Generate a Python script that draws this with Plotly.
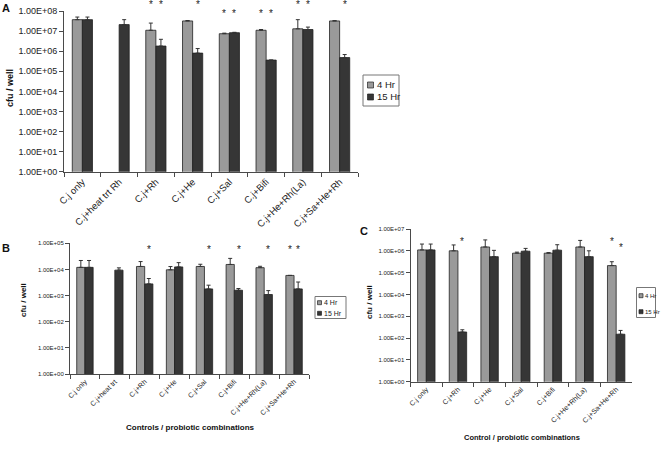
import plotly.graph_objects as go

# ---------------- data ----------------
cats_a = ["C.j only", "C.j+heat trt Rh", "C.j+Rh", "C.j+He", "C.j+Sal", "C.j+Bifi",
          "C.j+He+Rh(La)", "C.j+Sa+He+Rh"]
a_4hr = [3.7e7, None, 1.1e7, 3.2e7, 7.4e6, 1.1e7, 1.3e7, 3.2e7]
a_4hr_err = [1.3e7, None, 1.4e7, 1.5e6, 5e5, 1e6, 2.4e7, 1e6]
a_15hr = [3.7e7, 2.1e7, 1.8e6, 8e5, 8.3e6, 3.6e5, 1.2e7, 4.8e5]
a_15hr_err = [1.3e7, 1.6e7, 2.1e6, 5.5e5, 4e5, 0, 3.8e6, 2e5]
a_stars = [("C.j+Rh", "4 Hr", 8.3), ("C.j+Rh", "15 Hr", 8.3), ("C.j+He", "15 Hr", 8.3),
           ("C.j+Sal", "4 Hr", 7.9), ("C.j+Sal", "15 Hr", 7.9),
           ("C.j+Bifi", "4 Hr", 7.9), ("C.j+Bifi", "15 Hr", 7.9),
           ("C.j+He+Rh(La)", "4 Hr", 8.3), ("C.j+He+Rh(La)", "15 Hr", 8.3),
           ("C.j+Sa+He+Rh", "15 Hr", 8.3)]
a_tickvals = [1e0, 1e1, 1e2, 1e3, 1e4, 1e5, 1e6, 1e7, 1e8]
a_ticktext = ["1.00E+00", "1.00E+01", "1.00E+02", "1.00E+03", "1.00E+04",
              "1.00E+05", "1.00E+06", "1.00E+07", "1.00E+08"]

cats_b = ["C.j only", "C.j+heat trt", "C.j+Rh", "C.j+He", "C.j+Sal", "C.j+Bifi",
          "C.j+He+Rh(La)", "C.j+Sa+He+Rh"]
b_4hr = [1.2e4, None, 1.3e4, 9.7e3, 1.3e4, 1.55e4, 1.17e4, 5.9e3]
b_4hr_err = [1.0e4, None, 7e3, 3.2e3, 2.8e3, 1.1e4, 1.5e3, 0]
b_15hr = [1.2e4, 9.4e3, 2.8e3, 1.25e4, 1.8e3, 1.6e3, 1.1e3, 1.8e3]
b_15hr_err = [1.0e4, 2.1e3, 1.7e3, 5.7e3, 7e2, 2.6e2, 4.5e2, 1.5e3]
b_stars = [("C.j+Rh", "15 Hr", 4.77), ("C.j+Sal", "15 Hr", 4.77), ("C.j+Bifi", "15 Hr", 4.77),
           ("C.j+He+Rh(La)", "15 Hr", 4.77), ("C.j+Sa+He+Rh", "4 Hr", 4.77),
           ("C.j+Sa+He+Rh", "15 Hr", 4.77)]
b_tickvals = [1e0, 1e1, 1e2, 1e3, 1e4, 1e5]
b_ticktext = ["1.00E+00", "1.00E+01", "1.00E+02", "1.00E+03", "1.00E+04", "1.00E+05"]

cats_c = ["C.j only", "C.j+Rh", "C.j+He", "C.j+Sal", "C.j+Bifi", "C.j+He+Rh(La)", "C.j+Sa+He+Rh"]
c_4hr = [1.1e6, 1.0e6, 1.5e6, 7.8e5, 7.8e5, 1.5e6, 2.1e5]
c_4hr_err = [9.4e5, 8.6e5, 1.66e6, 9e4, 5e4, 1.5e6, 1.06e5]
c_15hr = [1.1e6, 1.9e2, 5.4e5, 9.6e5, 1.07e6, 5.4e5, 1.5e2]
c_15hr_err = [9.4e5, 50, 5.1e5, 3.3e5, 8.3e5, 4.6e5, 74]
c_stars = [("C.j+Rh", "15 Hr", 6.42), ("C.j+Sa+He+Rh", "4 Hr", 6.42),
           ("C.j+Sa+He+Rh", "15 Hr", 6.15)]
c_tickvals = [1e0, 1e1, 1e2, 1e3, 1e4, 1e5, 1e6, 1e7]
c_ticktext = ["1.00E+00", "1.00E+01", "1.00E+02", "1.00E+03", "1.00E+04",
              "1.00E+05", "1.00E+06", "1.00E+07"]

series_names = ["4 Hr", "15 Hr"]

# ---------------- style ----------------
W, H = 664, 449
FONT = "Arial, Liberation Sans, sans-serif"
GRAY = "#9a9a9a"
DARK = "#363636"
LINE = "#4a4a4a"
BARGAP = 0.45


def px_x(p):
    return p / W


def px_y(p):
    return 1 - p / H


fig = go.Figure()

panels = [
    dict(ax="", cats=cats_a, v4=a_4hr, e4=a_4hr_err, v15=a_15hr, e15=a_15hr_err,
         xdom=[64, 358], ydom=[11, 171.7], rng=[0, 8],
         tv=a_tickvals, tt=a_ticktext, tickfont=9, xfont=9.5, stars=a_stars, gap=0.45,
         leg=dict(box=[363, 75, 399, 106], rows=[85, 97], sq_x=367.5, sq=6, tx=375, font=9.5)),
    dict(ax="2", cats=cats_b, v4=b_4hr, e4=b_4hr_err, v15=b_15hr, e15=b_15hr_err,
         xdom=[70, 309], ydom=[243.3, 374], rng=[0, 5],
         tv=b_tickvals, tt=b_ticktext, tickfont=6, xfont=7, stars=b_stars, gap=0.43,
         leg=dict(box=[315, 296.5, 346, 318.5], rows=[302.7, 313.3], sq_x=317.5, sq=4, tx=322, font=7)),
    dict(ax="3", cats=cats_c, v4=c_4hr, e4=c_4hr_err, v15=c_15hr, e15=c_15hr_err,
         xdom=[410.5, 632], ydom=[229, 381.7], rng=[0, 7],
         tv=c_tickvals, tt=c_ticktext, tickfont=6, xfont=7, stars=c_stars, gap=0.43,
         leg=dict(box=[636.5, 287.5, 655.5, 317.5], rows=[295.7, 311.7], sq_x=639, sq=4, tx=643, font=6)),
]

annotations = []
shapes = []
for p in panels:
    xa = "x" + p["ax"]
    ya = "y" + p["ax"]
    for name, vals, errs, col in [(series_names[0], p["v4"], p["e4"], GRAY),
                                  (series_names[1], p["v15"], p["e15"], DARK)]:
        fig.add_trace(go.Bar(
            x=p["cats"], y=vals, name=name, xaxis=xa, yaxis=ya,
            marker=dict(color=col, line=dict(color="#222222", width=0.8)),
            error_y=dict(type="data", array=errs, arrayminus=[0] * len(errs),
                         symmetric=False, color="#333333", thickness=1, width=2),
            showlegend=False,
        ))
    fig.layout["xaxis" + p["ax"]] = dict(
        domain=[px_x(p["xdom"][0]), px_x(p["xdom"][1])], anchor=ya,
        type="category", showline=True, linecolor=LINE, linewidth=1,
        ticks="outside", tickson="boundaries", ticklen=4, tickcolor=LINE,
        tickangle=-45, tickfont=dict(size=p["xfont"], family=FONT, color="#222"),
        showgrid=False, zeroline=False, automargin=False)
    fig.layout["yaxis" + p["ax"]] = dict(
        domain=[px_y(p["ydom"][1]), px_y(p["ydom"][0])], anchor=xa,
        type="log", range=p["rng"], showline=True, linecolor=LINE, linewidth=1,
        ticks="outside", ticklen=4, tickcolor=LINE,
        tickvals=p["tv"], ticktext=p["tt"],
        tickfont=dict(size=p["tickfont"], family=FONT, color="#222"),
        showgrid=False, zeroline=False, automargin=False)
    off = (1 - p["gap"]) / 4
    top = p["rng"][1]
    for cat, ser, lev in p["stars"]:
        idx = p["cats"].index(cat)
        xpos = idx - off if ser == series_names[0] else idx + off
        annotations.append(dict(x=xpos, y=lev / top, xref=xa, yref=ya + " domain",
                                text="*", showarrow=False, yanchor="middle",
                                font=dict(size=10, family=FONT, color="#222")))
    # series key box
    lg = p["leg"]
    x0, y0, x1, y1 = lg["box"]
    shapes.append(dict(type="rect", xref="paper", yref="paper",
                       x0=px_x(x0), x1=px_x(x1), y0=px_y(y1), y1=px_y(y0),
                       line=dict(color="#777", width=1), fillcolor="white"))
    for name, col, ry in zip(series_names, [GRAY, DARK], lg["rows"]):
        s = lg["sq"]
        shapes.append(dict(type="rect", xref="paper", yref="paper",
                           x0=px_x(lg["sq_x"]), x1=px_x(lg["sq_x"] + s),
                           y0=px_y(ry + s / 2), y1=px_y(ry - s / 2),
                           line=dict(color="#222", width=0.7), fillcolor=col))
        annotations.append(dict(x=px_x(lg["tx"]), y=px_y(ry), xref="paper", yref="paper",
                                text=name, showarrow=False, xanchor="left", yanchor="middle",
                                font=dict(size=lg["font"], family=FONT, color="#222")))

fig.update_layout(barmode="group", bargap=BARGAP)


# panel letters, axis titles
def label(x, y, text, size, angle=0, bold=True):
    annotations.append(dict(x=px_x(x), y=px_y(y), xref="paper", yref="paper",
                            text=("<b>%s</b>" % text) if bold else text,
                            textangle=angle, showarrow=False,
                            xanchor="center", yanchor="middle",
                            font=dict(size=size, family=FONT, color="#111")))


label(6, 8, "A", 11)
label(6, 248, "B", 11)
label(364, 231, "C", 11)
label(10, 88, "cfu / well", 9, angle=-90)
label(23, 300, "cfu / well", 8, angle=-90)
label(369, 302, "cfu / well", 8, angle=-90)
label(190, 427, "Controls / probiotic combinations", 8)
label(522, 437, "Control / probiotic combinations", 7.5)

fig.update_layout(
    width=W, height=H, margin=dict(l=0, r=0, t=0, b=0, autoexpand=False),
    paper_bgcolor="white", plot_bgcolor="white",
    font=dict(family=FONT, color="#222"),
    annotations=annotations, shapes=shapes, showlegend=False,
)

fig.write_html("out.html", config={"displayModeBar": False},
               post_script="document.body.style.margin='0px';")
